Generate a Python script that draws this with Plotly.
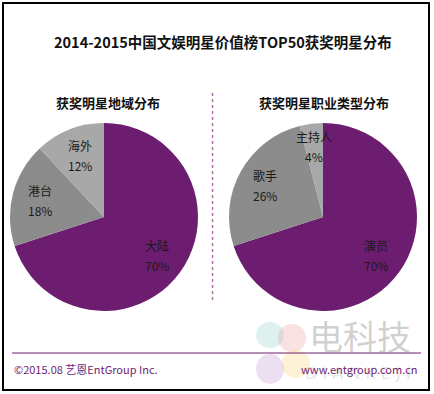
import math
import plotly.graph_objects as go

# ---- data ----
title_text = "2014-2015中国文娱明星价值榜TOP50获奖明星分布"
left_title = "获奖明星地域分布"
left_labels = ["大陆", "港台", "海外"]
left_values = [70, 18, 12]
right_title = "获奖明星职业类型分布"
right_labels = ["演员", "歌手", "主持人"]
right_values = [70, 26, 4]
footer_left = "©2015.08 艺恩EntGroup Inc."
footer_right = "www.entgroup.com.cn"

PURPLE = "#6d1d70"
DARK_GREY = "#8c8c8c"
LIGHT_GREY = "#a8a8a8"
colors = [PURPLE, DARK_GREY, LIGHT_GREY]
FONT = "Noto Sans CJK SC, Microsoft YaHei, sans-serif"

W, H = 434, 394
R = 94
centers = [(104, 217), (323, 217)]


def ann(x, y, text, size, color, family=FONT, xanchor="center"):
    return dict(x=x / W, y=(H - y) / H, xref="paper", yref="paper", text=text, showarrow=False,
                xanchor=xanchor, yanchor="middle", font=dict(size=size, color=color, family=family))


fig = go.Figure()
annotations = []

for (cx, cy), labels, values in zip(centers, [left_labels, right_labels], [left_values, right_values]):
    fig.add_trace(go.Pie(
        labels=labels, values=values, sort=False, direction="clockwise", rotation=0,
        marker=dict(colors=colors, line=dict(width=0)),
        textinfo="none", hoverinfo="label+percent", showlegend=False,
        domain=dict(x=[(cx - R) / W, (cx + R) / W], y=[(H - cy - R) / H, (H - cy + R) / H]),
    ))
    total = sum(values)
    start = 0.0
    for lab, v in zip(labels, values):
        mid = start + v / total * 180.0
        start += v / total * 360.0
        frac = 0.7 if v / total > 0.1 else 0.76
        th = math.radians(mid)
        px = cx + frac * R * math.sin(th)
        py = cy - frac * R * math.cos(th)
        annotations.append(ann(px, py - 10, lab, 12, "#1a1a1a"))
        annotations.append(ann(px, py + 10, f"{round(v / total * 100)}%", 12, "#1a1a1a"))

annotations += [
    ann(360, 335, "电科技", 34, "rgba(150,150,150,0.45)"),
    ann(358, 373, "D I A N K E J I", 16, "rgba(170,170,170,0.3)", family="DejaVu Sans"),
    ann(223, 42, f"<b>{title_text}</b>", 14.5, "#111"),
    ann(108, 103, f"<b>{left_title}</b>", 13, "#111"),
    ann(324, 103, f"<b>{right_title}</b>", 13, "#111"),
    ann(12, 369, footer_left, 11, PURPLE, xanchor="left"),
    ann(419, 369, footer_right, 11, PURPLE, xanchor="right"),
]

shapes = [
    dict(type="rect", xref="paper", yref="paper", x0=3 / W, x1=429 / W, y0=(H - 390) / H, y1=(H - 3) / H,
         line=dict(color="black", width=2)),
    dict(type="line", xref="paper", yref="paper", x0=212.5 / W, x1=212.5 / W, y0=(H - 300) / H, y1=(H - 92) / H,
         line=dict(color="#b070b0", width=1.5, dash="dot")),
    dict(type="line", xref="paper", yref="paper", x0=12 / W, x1=421 / W, y0=(H - 353) / H, y1=(H - 353) / H,
         line=dict(color=PURPLE, width=1)),
    # faint watermark logo petals
    dict(type="circle", xref="paper", yref="paper", x0=256 / W, x1=284 / W, y0=(H - 348) / H, y1=(H - 322) / H,
         fillcolor="rgba(120,200,200,0.25)", line=dict(width=0), layer="below"),
    dict(type="circle", xref="paper", yref="paper", x0=278 / W, x1=306 / W, y0=(H - 352) / H, y1=(H - 324) / H,
         fillcolor="rgba(240,140,140,0.25)", line=dict(width=0), layer="below"),
    dict(type="circle", xref="paper", yref="paper", x0=282 / W, x1=310 / W, y0=(H - 378) / H, y1=(H - 350) / H,
         fillcolor="rgba(250,210,120,0.3)", line=dict(width=0), layer="below"),
    dict(type="circle", xref="paper", yref="paper", x0=256 / W, x1=284 / W, y0=(H - 384) / H, y1=(H - 354) / H,
         fillcolor="rgba(190,150,210,0.3)", line=dict(width=0), layer="below"),
]

fig.update_layout(
    width=W, height=H, margin=dict(l=0, r=0, t=0, b=0),
    paper_bgcolor="white", plot_bgcolor="white",
    annotations=annotations, shapes=shapes,
)
fig.write_html("out.html", config={"displayModeBar": False},
               post_script="document.body.style.margin='0';")
